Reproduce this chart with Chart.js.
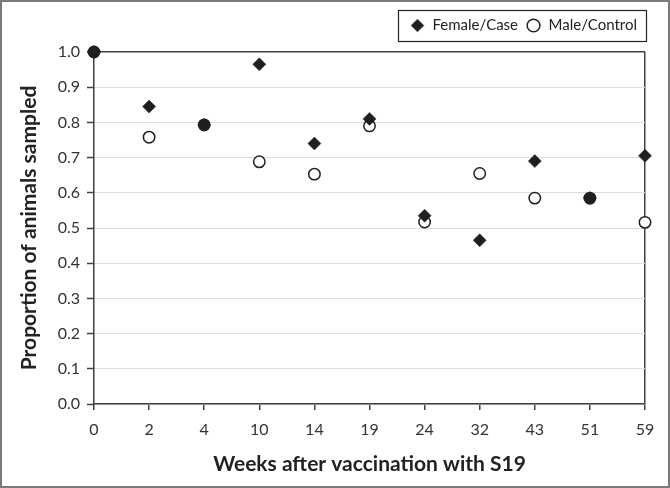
<!DOCTYPE html>
<html>
<head>
<meta charset="utf-8">
<script src="https://cdn.jsdelivr.net/npm/chart.js@4/dist/chart.umd.min.js"></script>
<style>
  html, body { margin: 0; padding: 0; background: #fff; }
  #wrap { width: 670px; height: 488px; }
</style>
</head>
<body>
<div id="wrap"><canvas id="c" width="670" height="488"></canvas></div>
<script>
// ---- data ----
const weeks = ['0', '2', '4', '10', '14', '19', '24', '32', '43', '51', '59'];
const femaleCase = [1.000, 0.845, 0.793, 0.965, 0.740, 0.810, 0.535, 0.465, 0.690, 0.585, 0.705];
const maleControl = [1.000, 0.758, 0.793, 0.688, 0.653, 0.790, 0.517, 0.655, 0.585, 0.585, 0.516];
const yTicks = [0, 0.1, 0.2, 0.3, 0.4, 0.5, 0.6, 0.7, 0.8, 0.9, 1.0];
const seriesNames = ['Female/Case', 'Male/Control'];
const xTitle = 'Weeks after vaccination with S19';
const yTitle = 'Proportion of animals sampled';

const DARK = '#404040';
const INK = '#1f1f1f';
const FONT = 'Lato, "Open Sans", sans-serif';

// male marker is drawn filled where both groups coincide
const maleFill = maleControl.map((v, i) => (v === femaleCase[i] ? INK : '#ffffff'));

const framePlugin = {
  id: 'frame',
  afterInit(chart) {
    // leave a little extra room below the legend row
    const lg = chart.legend;
    if (lg && !lg._patched) {
      const fit = lg.fit.bind(lg);
      lg.fit = function () { fit(); if (this.height) this.height += 9; };
      lg._patched = true;
    }
  },
  beforeDraw(chart) {
    const ctx = chart.ctx;
    ctx.save();
    ctx.fillStyle = '#ffffff';
    ctx.fillRect(0, 0, chart.width, chart.height);
    ctx.restore();
  },
  afterDraw(chart) {
    const ctx = chart.ctx;
    ctx.save();
    // outer frame
    ctx.strokeStyle = '#7a7a7a';
    ctx.lineWidth = 2;
    ctx.strokeRect(1, 1, chart.width - 2, chart.height - 2);
    // legend box
    const boxes = chart.legend && chart.legend.legendHitBoxes;
    if (boxes && boxes.length) {
      let minX = Infinity, maxX = -Infinity, minY = Infinity, maxY = -Infinity;
      boxes.forEach(b => {
        minX = Math.min(minX, b.left); maxX = Math.max(maxX, b.left + b.width);
        minY = Math.min(minY, b.top); maxY = Math.max(maxY, b.top + b.height);
      });
      ctx.strokeStyle = '#222';
      ctx.lineWidth = 1.2;
      ctx.strokeRect(Math.round(minX - 12) + 0.5, Math.round(minY - 8) + 0.5,
                     Math.round(maxX - minX + 21), Math.round(maxY - minY + 16));
    }
    ctx.restore();
  }
};

new Chart(document.getElementById('c'), {
  type: 'line',
  data: {
    labels: weeks,
    datasets: [
      {
        label: seriesNames[0],
        data: femaleCase,
        showLine: false,
        pointStyle: 'rectRot',
        pointRadius: 6.5,
        pointHoverRadius: 6.5,
        pointBackgroundColor: INK,
        pointBorderColor: INK,
        pointBorderWidth: 0.5,
        clip: false
      },
      {
        label: seriesNames[1],
        data: maleControl,
        showLine: false,
        pointStyle: 'circle',
        pointRadius: 5.7,
        pointHoverRadius: 5.7,
        pointBackgroundColor: maleFill,
        pointBorderColor: INK,
        pointBorderWidth: 1.5,
        clip: false
      }
    ]
  },
  options: {
    responsive: false,
    animation: false,
    devicePixelRatio: 1,
    layout: { padding: { top: 10, right: 25, left: 0, bottom: 0 } },
    plugins: {
      tooltip: { enabled: false },
      legend: {
        display: true,
        position: 'top',
        align: 'end',
        labels: {
          usePointStyle: true,
          boxHeight: 9,
          padding: 8,
          color: '#222',
          font: { family: FONT, size: 15 },
          generateLabels(chart) {
            const items = Chart.defaults.plugins.legend.labels.generateLabels(chart);
            items.forEach((it, i) => {
              it.fillStyle = i === 0 ? INK : '#ffffff';
              it.strokeStyle = INK;
              it.lineWidth = i === 0 ? 0.5 : 1.5;
            });
            return items;
          }
        }
      }
    },
    scales: {
      x: {
        type: 'category',
        offset: false,
        border: { display: true, color: DARK, width: 1.5 },
        grid: {
          display: true,
          drawOnChartArea: true,
          drawTicks: true,
          tickLength: 6,
          tickWidth: 1.5,
          tickColor: DARK,
          lineWidth: 1.5,
          color: (c) => (c.index === weeks.length - 1 ? DARK : 'rgba(0,0,0,0)')
        },
        ticks: {
          color: '#333',
          padding: 10,
          maxRotation: 0,
          autoSkip: false,
          font: { family: FONT, size: 16 }
        },
        title: {
          display: true,
          text: xTitle,
          color: '#222',
          font: { family: FONT, size: 21, weight: 'bold' },
          padding: { top: 0, bottom: 11 }
        },
        afterFit(scale) { scale.height = 84; }
      },
      y: {
        min: 0,
        max: 1,
        border: { display: true, color: DARK, width: 1.5 },
        afterBuildTicks(scale) { scale.ticks = yTicks.map(v => ({ value: v })); },
        grid: {
          drawTicks: true,
          tickLength: 7,
          tickWidth: 1.5,
          tickColor: DARK,
          color: (c) => (c.tick && c.tick.value === 1 ? DARK : '#dcdcdc'),
          lineWidth: (c) => (c.tick && c.tick.value === 1 ? 1.5 : 1)
        },
        ticks: {
          color: '#333',
          padding: 7,
          font: { family: FONT, size: 16 },
          callback: (v) => Number(v).toFixed(1)
        },
        title: {
          display: true,
          text: yTitle,
          color: '#222',
          font: { family: FONT, size: 21, weight: 'bold' },
          padding: { top: 17, bottom: 0 }
        },
        afterFit(scale) { scale.width = 94; }
      }
    }
  },
  plugins: [framePlugin]
});
</script>
</body>
</html>
